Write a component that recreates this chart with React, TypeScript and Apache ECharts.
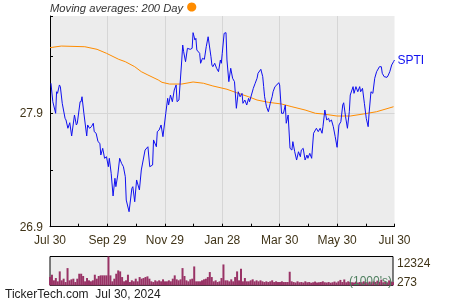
import React, { useEffect, useRef } from "react";
import * as echarts from "echarts";

const xTickLabels = ["Jul 30", "Sep 29", "Nov 29", "Jan 28", "Mar 30", "May 30", "Jul 30"];
const yTickLabels = [26.9, 27.9];

const priceDays = [1,3,6,7,8,10,11,13,16,17,19,21,23,26,28,29,32,33,34,36,39,40,42,44,46,47,49,51,53,54,56,58,60,62,63,65,67,69,70,72,74,76,78,80,81,84,87,88,90,92,95,97,101,104,106,109,110,113,114,116,118,120,123,125,126,128,130,132,134,135,137,140,141,142,144,146,149,151,152,154,155,156,159,160,162,164,166,168,171,172,173,175,177,179,181,182,183,185,187,188,190,192,194,196,198,200,202,204,205,207,209,211,212,214,216,218,220,221,224,226,227,228,230,232,234,236,237,239,241,243,244,246,248,250,251,253,255,257,258,260,262,264,266,267,269,271,273,274,276,278,280,282,283,285,287,289,290,292,294,296,297,299,301,303,305,307,309,311,312,314,316,318,319,322,323,325,327,329,330,332,334,336,338,339,341,343,345,347,350,352,353,355,358,359,361,363,365,366];
const priceValues = [28.165,28.002,27.9,28.09,28.076,28.15,28.135,27.988,27.856,27.841,27.768,27.817,27.7,27.885,27.797,27.812,28.002,28.002,28.046,27.9,27.7,27.797,27.768,27.782,27.812,27.738,27.724,27.65,27.635,27.532,27.591,27.503,27.517,27.429,27.503,27.371,27.171,27.327,27.253,27.356,27.503,27.459,27.429,27.341,27.135,27.032,27.239,27.253,27.12,27.312,27.224,27.4,27.576,27.605,27.429,27.444,27.665,27.605,27.738,27.753,27.797,27.694,27.9,28.032,27.973,28.061,28.002,28.105,28.15,28.002,28.017,28.37,28.502,28.443,28.355,28.473,28.464,28.473,28.611,28.546,28.561,28.458,28.429,28.341,28.385,28.376,28.487,28.575,28.399,28.326,28.311,28.341,28.297,28.267,28.37,28.341,28.429,28.605,28.611,28.37,28.179,28.297,28.209,28.179,27.944,28.09,28.046,28.076,27.988,28.017,27.973,28.032,28.002,28.061,28.12,28.165,28.209,28.253,28.288,28.223,28.135,28.046,27.958,27.914,27.988,28.046,28.09,28.135,28.15,28.17,28.15,27.9,27.9,27.973,27.812,27.885,27.591,27.576,27.65,27.561,27.488,27.561,27.517,27.576,27.591,27.488,27.532,27.503,27.547,27.503,27.724,27.753,27.768,27.738,27.768,27.724,27.782,27.929,27.841,27.856,27.826,27.841,27.782,27.694,27.6,27.797,27.826,27.973,27.993,27.87,27.768,27.914,28.061,28.135,28.076,28.135,28.09,28.135,28.09,28.12,27.988,27.856,27.782,27.9,28.09,28.076,28.209,28.267,28.311,28.311,28.253,28.223,28.217,28.229,28.267,28.326,28.355,28.37];

const maDays = [0,12,37,50,60,73,80,90,97,104,115,119,127,140,152,163,173,188,198,211,220,232,246,257,271,282,290,305,319,333,347,365];
const maValues = [28.479,28.493,28.487,28.464,28.429,28.376,28.355,28.311,28.267,28.238,28.194,28.173,28.158,28.158,28.176,28.165,28.141,28.112,28.082,28.046,28.017,27.997,27.982,27.958,27.929,27.9,27.894,27.876,27.876,27.894,27.914,27.958];

const volumes = [3530,4530,2125,3110,1700,5950,2125,2830,1400,7360,2125,2550,2830,1400,2830,4950,4950,3970,1700,3110,2125,1700,2125,4530,2830,3970,4250,4250,4250,4250,12324,4250,1700,2830,4950,6375,5950,3530,1700,2125,4530,1400,2125,1700,2830,1700,3530,2830,3110,3530,3825,2830,1700,1400,2125,1700,2125,1700,2550,1700,1700,
  2125,1700,2830,4250,2550,2125,2550,7360,3970,2125,1700,2550,2830,8070,1700,1700,1700,2125,2550,2830,3530,5670,3530,1700,2125,1400,1700,3110,8920,2125,2125,1700,2550,1700,3530,5950,2125,7080,1700,3110,1700,1700,2125,2550,1700,2125,1700,2125,1700,1400,1700,1400,1700,2125,1400,1700,1400,1400,1700,1400,1400,
  1400,5800,1700,1400,1200,1700,1300,1400,1200,1700,1300,1400,1100,1300,1600,1200,1300,1400,1700,1300,1200,1400,1100,1300,1600,1200,1700,2300,1400,2500,1300,1700,1400,1300,1200,1600,1200,1400,1300,1700,1400,1200,1600,1300,1700,1400,2000,1500,2400,1300,1500,1200,2100,1600,1400];
const volumeMax = 12324;
const volumeMinLabel = 273;
const totalDays = 366;
const labelColor = "#403418";
const font = "Liberation Sans, Arial, sans-serif";

export default function App() {
  const ref = useRef<HTMLDivElement>(null);
  useEffect(() => {
    if (!ref.current) return;
    const chart = echarts.init(ref.current, undefined, { renderer: "svg" });
    const step = totalDays / 6;
    const volData = volumes.map((v, i) => [i * totalDays / (volumes.length - 1), v]);
    chart.setOption({
      animation: false,
      textStyle: { fontFamily: font },
      grid: [
        { left: 50, top: 16, width: 344.5, height: 210.7, show: true, backgroundColor: "#ececec", borderWidth: 0 },
        { left: 50, top: 256.5, width: 343, height: 28.8, show: true, backgroundColor: "#ececec", borderColor: "#000", borderWidth: 1 },
      ],
      xAxis: [
        {
          type: "value", gridIndex: 0, min: 0, max: totalDays, interval: step,
          axisLine: { show: true, lineStyle: { color: "#000", width: 1 } },
          axisTick: { show: true, inside: true, length: 3, lineStyle: { color: "#000" } },
          minorTick: { show: true, splitNumber: 2, length: 3, lineStyle: { color: "#000" } },
          splitLine: { show: true, lineStyle: { color: ["rgba(0,0,0,0)", "#d6d6d6", "#d6d6d6", "#d6d6d6", "#d6d6d6", "#d6d6d6", "rgba(0,0,0,0)"], width: 1 } },
          axisLabel: {
            show: true, showMinLabel: true, showMaxLabel: true, color: labelColor, fontSize: 12, margin: 7,
            formatter: (v: number) => {
              const i = Math.round(v / step);
              return Math.abs(v - i * step) < 0.01 ? xTickLabels[i] : "";
            },
          },
        },
        { type: "value", gridIndex: 1, min: 0, max: totalDays, show: false },
      ],
      yAxis: [
        {
          type: "value", gridIndex: 0, min: 26.9, max: 28.758, interval: 0.5,
          axisLine: { show: true, lineStyle: { color: "#000", width: 1 } },
          axisTick: { show: true, inside: true, length: 3, lineStyle: { color: "#000" } },
          splitLine: { show: true, lineStyle: { color: ["rgba(0,0,0,0)", "rgba(0,0,0,0)", "#d6d6d6", "rgba(0,0,0,0)", "rgba(0,0,0,0)"] } },
          axisLabel: {
            color: labelColor, fontSize: 12, margin: 7, showMaxLabel: true,
            formatter: (v: number) => {
              const m = yTickLabels.find((l) => Math.abs(l - v) < 1e-6);
              return m !== undefined ? m.toFixed(1) : "";
            },
          },
        },
        { type: "value", gridIndex: 1, min: 0, max: volumeMax, show: false },
      ],
      series: [
        {
          type: "line", xAxisIndex: 0, yAxisIndex: 0, symbol: "none", z: 3,
          data: maDays.map((d, i) => [d, maValues[i]]),
          lineStyle: { color: "#ff8c00", width: 1 },
        },
        {
          type: "line", xAxisIndex: 0, yAxisIndex: 0, symbol: "none", z: 4,
          data: priceDays.map((d, i) => [d, priceValues[i]]),
          lineStyle: { color: "#1010f0", width: 1 },
          endLabel: { show: true, formatter: "SPTI", color: "#1010f0", fontSize: 12, distance: 3, fontFamily: font },
        },
        {
          type: "bar", xAxisIndex: 1, yAxisIndex: 1, barWidth: 2,
          data: volData,
          itemStyle: { color: "#993366" },
        },
      ],
      graphic: [
        { type: "text", left: 50, top: 2, style: { text: "Moving averages: 200 Day", fontStyle: "italic", fontSize: 11.2, fill: "#333", fontFamily: font } },
        { type: "circle", shape: { cx: 191.7, cy: 7, r: 4.6 }, style: { fill: "#ff8c00" } },
        { type: "text", x: 397, y: 263, style: { text: String(volumeMax), fontSize: 12, fill: labelColor, verticalAlign: "middle", fontFamily: font } },
        { type: "text", x: 397, y: 282, style: { text: String(volumeMinLabel), fontSize: 12, fill: labelColor, verticalAlign: "middle", fontFamily: font } },
        { type: "text", x: 392, y: 280.5, z: 10, style: { text: "(1000's)", fontSize: 12, fill: "#4f7f5f", align: "right", verticalAlign: "middle", fontFamily: font } },
        { type: "text", x: 5, y: 293.5, style: { text: "TickerTech.com  Jul 30, 2024", fontSize: 12, fill: "#222", verticalAlign: "middle", fontFamily: font } },
      ],
    });
    return () => chart.dispose();
  }, []);
  return <div ref={ref} style={{ position: "fixed", left: 0, top: 0, width: 450, height: 300 }} />;
}
